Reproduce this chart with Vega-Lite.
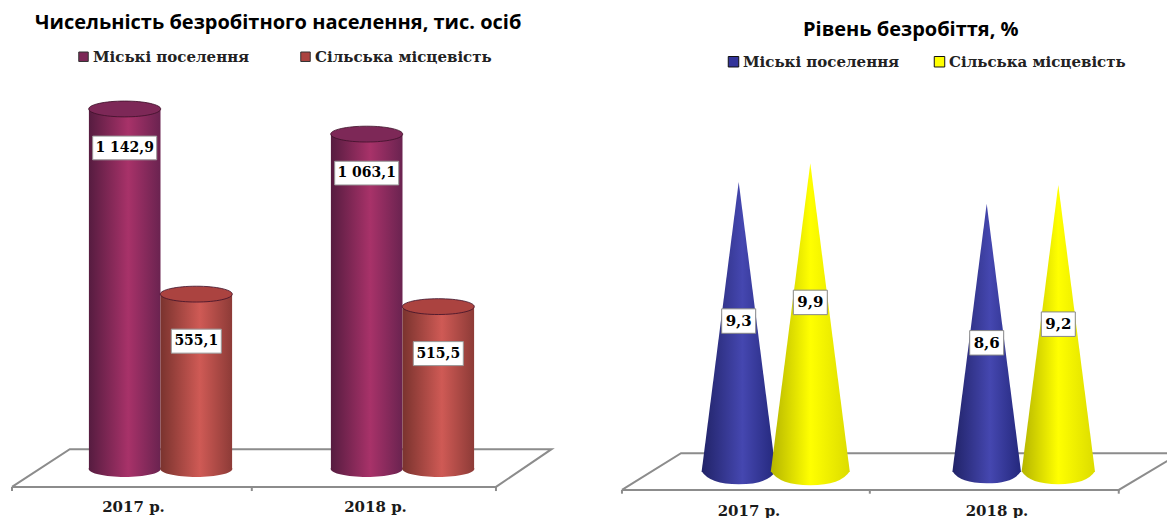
{
"$schema":"https://vega.github.io/schema/vega-lite/v6.json",
"padding":{"left":8,"top":13,"right":0,"bottom":0},
"autosize":{"type":"pad"},
"background":"white",
"config":{"view":{"stroke":null}},
"spacing":60,
"hconcat":[
{
"width":545,"height":455,
"title":{"text":"Чисельність безробітного населення,  тис. осіб","font":"Open Sans","fontWeight":"bold","fontSize":20,"color":"#000000","anchor":"start","dx":27,"offset":6},
"layer":[
{"data":{"values":[
{"part":"floor","seq":1,"fx":0.0,"fy":-57},
{"part":"floor","seq":2,"fx":0.106,"fy":63},
{"part":"floor","seq":3,"fx":0.99,"fy":63},
{"part":"floor","seq":4,"fx":0.888,"fy":-57},
{"part":"floor","seq":5,"fx":0.0,"fy":-57},
{"part":"t0","seq":1,"fx":0.0,"fy":-57},{"part":"t0","seq":2,"fx":0.0,"fy":-70},
{"part":"t1","seq":1,"fx":0.44,"fy":-57},{"part":"t1","seq":2,"fx":0.44,"fy":-70},
{"part":"t2","seq":1,"fx":0.888,"fy":-57},{"part":"t2","seq":2,"fx":0.888,"fy":-70}
]},
"mark":{"type":"line","color":"#8c8c8c","strokeWidth":2},
"encoding":{
"x":{"field":"fx","type":"quantitative","scale":{"domain":[0,1],"nice":false,"zero":false},"axis":null},
"y":{"field":"fy","type":"quantitative","scale":{"domain":[-79.4,1365],"nice":false,"zero":false},"axis":null},
"detail":{"field":"part"},
"order":{"field":"seq"}
}},
{
"data":{"values":[
{"year":"2017 р.","series":"Міські поселення","value":1142.9,"label":"1 142,9"},
{"year":"2017 р.","series":"Сільська місцевість","value":555.1,"label":"555,1"},
{"year":"2018 р.","series":"Міські поселення","value":1063.1,"label":"1 063,1"},
{"year":"2018 р.","series":"Сільська місцевість","value":515.5,"label":"515,5"}
]},
"encoding":{
"x":{"field":"year","type":"nominal","scale":{"domain":["2017 р.","2018 р."],"range":[27.5,511.5],"paddingInner":0,"paddingOuter":0},
"axis":{"title":null,"domain":false,"ticks":false,"labelAngle":0,"labelOffset":-27,"labelPadding":5,"labelFont":"DejaVu Serif","labelFontWeight":"bold","labelFontSize":15,"labelColor":"#1a1a1a"}},
"xOffset":{"field":"series","type":"nominal","scale":{"domain":["Міські поселення","Сільська місцевість"],"paddingInner":0,"paddingOuter":0.69}},
"y":{"field":"value","type":"quantitative","scale":{"domain":[-79.4,1365],"nice":false,"zero":false},"axis":null}
},
"layer":[
{"transform":[{"filter":"datum.series==='Міські поселення'"}],"mark":{"type":"point","filled":true,"opacity":1,"shape":"M-1,0A1,0.22,0,1,1,1,0A1,0.22,0,1,1,-1,0Z","size":5184,"fill":{"x1":0,"x2":1,"y1":0,"y2":0,"gradient":"linear","stops":[{"offset":0,"color":"#561c40"},{"offset":0.55,"color":"#a83269"},{"offset":1,"color":"#6a2350"}]}},"encoding":{"y":{"datum":0,"type":"quantitative"}}},
{"transform":[{"filter":"datum.series==='Міські поселення'"}],"mark":{"type":"bar","opacity":1,"fill":{"x1":0,"x2":1,"y1":0,"y2":0,"gradient":"linear","stops":[{"offset":0,"color":"#561c40"},{"offset":0.55,"color":"#a83269"},{"offset":1,"color":"#6a2350"}]}},"encoding":{"y2":{"datum":0}}},
{"transform":[{"filter":"datum.series==='Сільська місцевість'"}],"mark":{"type":"point","filled":true,"opacity":1,"shape":"M-1,0A1,0.22,0,1,1,1,0A1,0.22,0,1,1,-1,0Z","size":5184,"fill":{"x1":0,"x2":1,"y1":0,"y2":0,"gradient":"linear","stops":[{"offset":0,"color":"#7a332e"},{"offset":0.55,"color":"#cf5a55"},{"offset":1,"color":"#8d3b37"}]}},"encoding":{"y":{"datum":0,"type":"quantitative"}}},
{"transform":[{"filter":"datum.series==='Сільська місцевість'"}],"mark":{"type":"bar","opacity":1,"fill":{"x1":0,"x2":1,"y1":0,"y2":0,"gradient":"linear","stops":[{"offset":0,"color":"#7a332e"},{"offset":0.55,"color":"#cf5a55"},{"offset":1,"color":"#8d3b37"}]}},"encoding":{"y2":{"datum":0}}},
{"mark":{"type":"point","filled":true,"opacity":1,"shape":"M-1,0A1,0.22,0,1,1,1,0A1,0.22,0,1,1,-1,0Z","size":5184,"stroke":"#3c1028","strokeWidth":0.8},
 "encoding":{"fill":{"field":"series","type":"nominal","scale":{"domain":["Міські поселення","Сільська місцевість"],"range":["#7d2857","#ab4340"]},
 "legend":{"title":null,"orient":"none","legendX":64,"legendY":10,"direction":"horizontal","columns":2,"symbolType":"square","symbolSize":90,"symbolStrokeColor":"#333333","symbolStrokeWidth":1,"labelFont":"DejaVu Serif","labelFontWeight":"bold","labelFontSize":15,"labelColor":"#222222","labelLimit":300,"columnPadding":48,"labelOffset":2}}}},
{"transform":[{"filter":"datum.value>=1000"}],"mark":{"type":"point","filled":true,"opacity":1,"fill":"white","stroke":"#999999","strokeWidth":1,"shape":"M-1,-0.37H1V0.37H-1Z","size":4096,"yOffset":39}},
{"transform":[{"filter":"datum.value<1000"}],"mark":{"type":"point","filled":true,"opacity":1,"fill":"white","stroke":"#999999","strokeWidth":1,"shape":"M-1,-0.48H1V0.48H-1Z","size":2500,"yOffset":47}},
{"transform":[{"filter":"datum.value>=1000"}],"mark":{"type":"text","font":"DejaVu Serif","fontWeight":"bold","fontSize":14,"color":"#000000","yOffset":39,"baseline":"middle"},"encoding":{"text":{"field":"label"}}},
{"transform":[{"filter":"datum.value<1000"}],"mark":{"type":"text","font":"DejaVu Serif","fontWeight":"bold","fontSize":14,"color":"#000000","yOffset":47,"baseline":"middle"},"encoding":{"text":{"field":"label"}}}
]
}
],
"resolve":{"scale":{"x":"independent"}}
},
{
"width":552,"height":455,
"title":{"text":"Рівень безробіття, %","font":"Open Sans","fontWeight":"bold","fontSize":20,"color":"#000000","anchor":"start","dx":186,"offset":-1},
"layer":[
{"data":{"values":[
{"part":"floor","seq":1,"fx":0.009,"fy":-0.6},
{"part":"floor","seq":2,"fx":0.116,"fy":0.58},
{"part":"floor","seq":3,"fx":1.02,"fy":0.58},
{"part":"floor","seq":4,"fx":0.909,"fy":-0.6},
{"part":"floor","seq":5,"fx":0.009,"fy":-0.6},
{"part":"t0","seq":1,"fx":0.009,"fy":-0.6},{"part":"t0","seq":2,"fx":0.009,"fy":-0.72},
{"part":"t1","seq":1,"fx":0.458,"fy":-0.6},{"part":"t1","seq":2,"fx":0.458,"fy":-0.72},
{"part":"t2","seq":1,"fx":0.909,"fy":-0.6},{"part":"t2","seq":2,"fx":0.909,"fy":-0.72}
]},
"mark":{"type":"line","color":"#8c8c8c","strokeWidth":2,"clip":true},
"encoding":{
"x":{"field":"fx","type":"quantitative","scale":{"domain":[0,1],"nice":false,"zero":false},"axis":null},
"y":{"field":"fy","type":"quantitative","scale":{"domain":[-0.73,13.9],"nice":false,"zero":false},"axis":null},
"detail":{"field":"part"},
"order":{"field":"seq"}
}},
{
"data":{"values":[
{"year":"2017 р.","series":"Міські поселення","value":9.3,"label":"9,3"},
{"year":"2017 р.","series":"Сільська місцевість","value":9.9,"label":"9,9"},
{"year":"2018 р.","series":"Міські поселення","value":8.6,"label":"8,6"},
{"year":"2018 р.","series":"Сільська місцевість","value":9.2,"label":"9,2"}
]},
"encoding":{
"x":{"field":"year","type":"nominal","scale":{"domain":["2017 р.","2018 р."],"range":[36.5,532.5],"paddingInner":0,"paddingOuter":0},
"axis":{"title":null,"domain":false,"ticks":false,"labelAngle":0,"labelOffset":-28.5,"labelPadding":9,"labelFont":"DejaVu Serif","labelFontWeight":"bold","labelFontSize":15,"labelColor":"#1a1a1a"}},
"xOffset":{"field":"series","type":"nominal","scale":{"domain":["Міські поселення","Сільська місцевість"],"paddingInner":0,"paddingOuter":0.746}},
"y":{"field":"value","type":"quantitative","scale":{"domain":[-0.73,13.9],"nice":false,"zero":false},"axis":null}
},
"layer":[
{"mark":{"type":"point","filled":true,"opacity":1,"size":0},
 "encoding":{"fill":{"field":"series","type":"nominal","scale":{"domain":["Міські поселення","Сільська місцевість"],"range":["#33349a","#ffff00"]},
 "legend":{"title":null,"orient":"none","legendX":109,"legendY":15,"direction":"horizontal","columns":2,"symbolType":"square","symbolSize":110,"symbolStrokeColor":"#111111","symbolStrokeWidth":1,"labelFont":"DejaVu Serif","labelFontWeight":"bold","labelFontSize":15,"labelColor":"#222222","labelLimit":300,"columnPadding":32,"labelOffset":2}}}},
{"transform":[{"filter":"datum.series==='Міські поселення'"}],"mark":{"type":"point","filled":true,"opacity":1,"shape":"M0,-1L0.128,0Q0.1,0.045,0,0.045Q-0.1,0.045,-0.128,0Z","fill":{"x1":0,"x2":1,"y1":0,"y2":0,"gradient":"linear","stops":[{"offset":0,"color":"#212368"},{"offset":0.55,"color":"#4547b0"},{"offset":1,"color":"#24287c"}]}},
 "encoding":{"y":{"datum":0,"type":"quantitative"},
 "size":{"field":"value","type":"quantitative","legend":null,"scale":{"type":"pow","exponent":2,"domain":[0,9.9],"range":[0,379456]}}}},
{"transform":[{"filter":"datum.series==='Сільська місцевість'"}],"mark":{"type":"point","filled":true,"opacity":1,"shape":"M0,-1L0.128,0Q0.1,0.045,0,0.045Q-0.1,0.045,-0.128,0Z","fill":{"x1":0,"x2":1,"y1":0,"y2":0,"gradient":"linear","stops":[{"offset":0,"color":"#b5b500"},{"offset":0.5,"color":"#ffff00"},{"offset":1,"color":"#dcdc00"}]}},
 "encoding":{"y":{"datum":0,"type":"quantitative"},
 "size":{"field":"value","type":"quantitative","legend":null,"scale":{"type":"pow","exponent":2,"domain":[0,9.9],"range":[0,379456]}}}},
{"mark":{"type":"point","filled":true,"opacity":1,"fill":"white","stroke":"#888888","strokeWidth":1,"shape":"M-1,-0.72H1V0.72H-1Z","size":1156,"yOffset":139}},
{"mark":{"type":"text","font":"DejaVu Serif","fontWeight":"bold","fontSize":15,"color":"#000000","yOffset":139,"baseline":"middle"},"encoding":{"text":{"field":"label"}}}
]
}
],
"resolve":{"scale":{"x":"independent"}}
}
],
"resolve":{"scale":{"fill":"independent","x":"independent","y":"independent"},"legend":{"fill":"independent"}}
}
